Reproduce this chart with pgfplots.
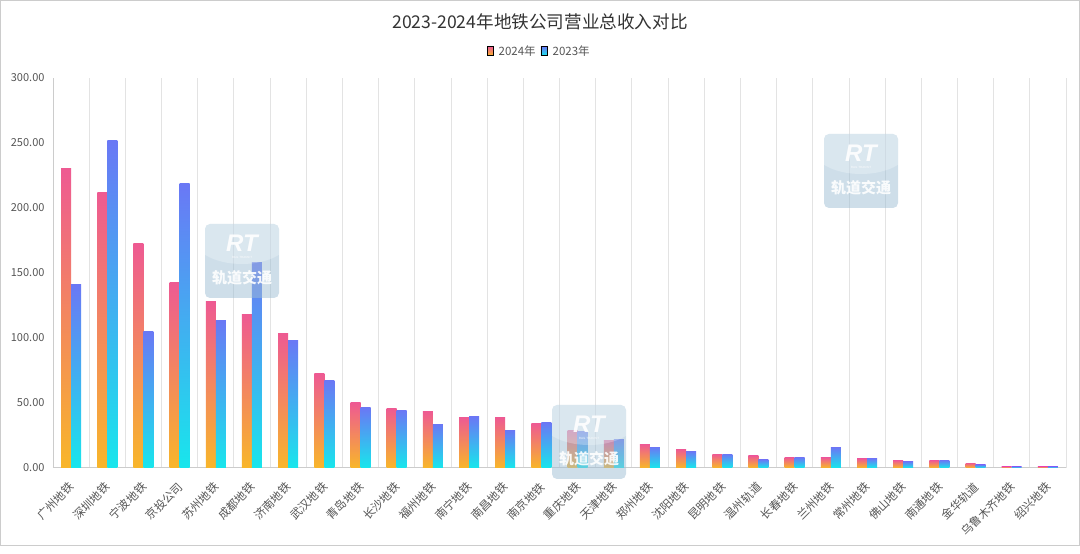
\documentclass[border=0pt]{standalone}
\usepackage{fontspec}
\setmainfont{Noto Sans CJK SC}
\newfontfamily\latinsans{Liberation Sans}
\usepackage{pgfplots}
\usepackage{pgfplotstable}
\pgfplotsset{compat=1.18}
\usetikzlibrary{calc}
\definecolor{pinkT}{HTML}{EE5A92}
\definecolor{orangeB}{HTML}{F8B62A}
\definecolor{blueT}{HTML}{6A78F5}
\definecolor{cyanB}{HTML}{18E6EC}
\definecolor{titlec}{HTML}{333333}
\definecolor{labc}{HTML}{555555}
\definecolor{gridc}{HTML}{E3E3E3}
\definecolor{axc}{HTML}{CCCCCC}
\definecolor{wmc}{HTML}{9DBED4}

\pgfplotstableread{
x y24 y23
0 230.3 141.1
1 212.0 251.6
2 172.2 105.1
3 142.1 218.4
4 127.5 113.6
5 117.5 158.0
6 103.6 98.0
7 72.1 66.7
8 49.8 46.2
9 45.5 43.9
10 43.4 33.3
11 38.6 39.0
12 38.6 28.7
13 34.0 34.5
14 28.5 28.0
15 21.0 22.0
16 17.8 15.8
17 14.0 12.4
18 10.4 10.4
19 9.0 6.2
20 7.8 7.8
21 7.6 15.4
22 6.8 7.0
23 5.5 4.7
24 5.5 5.7
25 3.6 2.3
26 1.0 1.0
27 1.0 1.0
}\revdata

% watermark: #1,#2 = top-left corner in image pixels (from the image's top-left)
\newcommand{\watermark}[2]{%
  \begin{scope}[shift={(#1,554-#2)}]
    \fill[wmc, opacity=0.5, rounded corners=5pt] (0,0) rectangle (74,-74);
    \begin{scope}
      \clip[rounded corners=5pt] (0,0) rectangle (74,-74);
      \fill[white, opacity=0.25] (37,-12) ellipse (50 and 28);
    \end{scope}
    \node[text=white, opacity=0.9, font=\latinsans\bfseries\itshape\fontsize{24}{24}\selectfont] at (37,-19) {RT};
    \node[text=white, opacity=0.9, font=\latinsans\fontsize{3}{3}\selectfont] at (37,-33) {RAIL TRANSIT};
    \node[text=white, opacity=0.9, font=\bfseries\fontsize{15}{15}\selectfont] at (37,-54) {轨道交通};
  \end{scope}%
}

\begin{document}
\begin{tikzpicture}[x=1pt,y=1pt]
\begin{axis}[
  scale only axis, width=1013, height=390,
  xmin=-0.5, xmax=27.5, ymin=0, ymax=300,
  axis x line*=bottom, axis y line*=left,
  axis line style={axc, line width=0.8pt},
  xtick={0,...,27},
  xticklabels={广州地铁,深圳地铁,宁波地铁,京投公司,苏州地铁,成都地铁,济南地铁,武汉地铁,青岛地铁,长沙地铁,福州地铁,南宁地铁,南昌地铁,南京地铁,重庆地铁,天津地铁,郑州地铁,沈阳地铁,昆明地铁,温州轨道,长春地铁,兰州地铁,常州地铁,佛山地铁,南通地铁,金华轨道,乌鲁木齐地铁,绍兴地铁},
  minor xtick={-0.5,0.5,...,27.5},
  xminorgrids=true, xmajorgrids=false,
  minor grid style={gridc, line width=0.8pt},
  major tick length=0pt, minor tick length=0pt,
  ytick={0,50,...,300},
  yticklabel style={text=labc, font=\fontsize{11}{11}\selectfont, xshift=-5pt},
  /pgf/number format/.cd, fixed, fixed zerofill, precision=2, assume math mode=true,
  /pgfplots/.cd,
  xticklabel style={text=labc, font=\fontsize{11.5}{11.5}\selectfont, inner sep=0pt, xshift=-3pt, yshift=-13pt, rotate=45, anchor=north east},
  legend columns=2,
  legend style={at={(axis description cs:0.48,1)}, anchor=center, yshift=26.7pt, draw=none, fill=none, font=\fontsize{11.5}{11.5}\selectfont, text=labc, inner sep=0pt, nodes={inner sep=2pt}, /tikz/every even column/.append style={column sep=3pt}},
]
\addlegendimage{legend image code/.code={\fill[top color=pinkT, bottom color=orangeB] (0pt,-4.5pt) rectangle (6pt,4.5pt); \path (9.5pt,0pt);}}
\addlegendentry{2024年}
\addlegendimage{legend image code/.code={\fill[top color=blueT, bottom color=cyanB] (0pt,-4.5pt) rectangle (6pt,4.5pt); \path (9.5pt,0pt);}}
\addlegendentry{2023年}
\pgfplotsinvokeforeach{0,...,27}{
\addplot[ybar, bar width=10pt, bar shift=-5pt, draw=none, top color=pinkT, bottom color=orangeB, forget plot,
  restrict x to domain=#1:#1]
  table[x=x, y=y24] {\revdata};
\addplot[ybar, bar width=10pt, bar shift=5pt, draw=none, top color=blueT, bottom color=cyanB, forget plot,
  restrict x to domain=#1:#1]
  table[x=x, y=y23] {\revdata};
}
\coordinate (O) at (axis cs:-0.5,0);
\end{axis}
\begin{scope}[shift={($(O)+(-53,-86.3)$)}]
\path (0,0) rectangle (1080,554);
\draw[axc, line width=0.8pt] (0.5,8.5) rectangle (1079.5,553.5);
\node[text=titlec, font=\fontsize{17.6}{17.6}\selectfont] at (540,532) {2023-2024年地铁公司营业总收入对比};
\watermark{205}{224}
\watermark{824}{134}
\watermark{552}{405}
\end{scope}
\end{tikzpicture}
\end{document}
